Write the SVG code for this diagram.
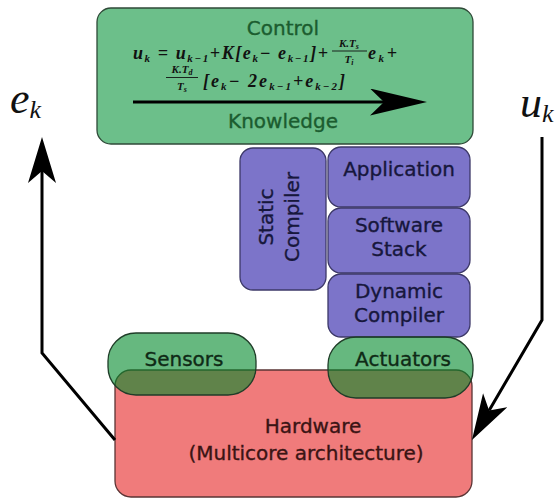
<svg xmlns="http://www.w3.org/2000/svg" width="560" height="501" viewBox="0 0 560 501">
<style>
.lbl{font-family:"DejaVu Sans",sans-serif;font-size:20px;text-anchor:middle;stroke-width:0.35}
.g{fill:#1b5c2f;stroke:#1b5c2f}
.p{fill:#17173c;stroke:#17173c}
.h{fill:#3a1414;stroke:#3a1414}
.d{fill:#0f2a16;stroke:#0f2a16}
.m{font-family:"Liberation Serif",serif;font-style:italic;font-weight:bold;fill:#111}
.big{font-family:"Liberation Serif",serif;font-style:italic;fill:#111}
.box{stroke-width:1.3}
.conn{fill:none;stroke:#000;stroke-width:3}
.fl{stroke:#111;stroke-width:0.9}
</style>
<defs>
<marker id="ah" viewBox="0 0 46 28" refX="12" refY="14" markerWidth="46" markerHeight="28" markerUnits="userSpaceOnUse" orient="auto">
<path d="M0,0 L46,14 L0,28 L12,14 Z" fill="#000"/>
</marker>
<marker id="ahc" viewBox="0 0 57 27" refX="14" refY="13.5" markerWidth="57" markerHeight="27" markerUnits="userSpaceOnUse" orient="auto">
<path d="M0,0 L57,13.5 L0,27 L14,13.5 Z" fill="#000"/>
</marker>
</defs>

<g id="control">
<rect class="box" x="97" y="8" width="376" height="136" rx="14" fill="#6cbf8a" stroke="#2f4a38"/>
<text class="lbl g" x="283" y="35">Control</text>
<text class="m" font-size="18" x="133" y="59" textLength="195" lengthAdjust="spacing">u<tspan font-size="11" dy="3">k</tspan><tspan dy="-3"> = u</tspan><tspan font-size="11" dy="3">k−1</tspan><tspan dy="-3">+K[e</tspan><tspan font-size="11" dy="3">k</tspan><tspan dy="-3">− e</tspan><tspan font-size="11" dy="3">k−1</tspan><tspan dy="-3">]+</tspan></text>
<text class="m" font-size="11" x="349" y="47" text-anchor="middle">K.T<tspan font-size="8" dy="2">s</tspan></text>
<line class="fl" x1="332" y1="51" x2="367" y2="51"/>
<text class="m" font-size="11" x="349" y="63" text-anchor="middle">T<tspan font-size="8" dy="2">i</tspan></text>
<text class="m" font-size="18" x="368" y="59" textLength="29" lengthAdjust="spacing">e<tspan font-size="11" dy="3">k</tspan><tspan dy="-3">+</tspan></text>
<text class="m" font-size="11" x="182" y="73" text-anchor="middle">K.T<tspan font-size="8" dy="2">d</tspan></text>
<line class="fl" x1="166" y1="77.5" x2="198" y2="77.5"/>
<text class="m" font-size="11" x="182" y="90" text-anchor="middle">T<tspan font-size="8" dy="2">s</tspan></text>
<text class="m" font-size="18" x="203" y="87" textLength="142" lengthAdjust="spacing">[e<tspan font-size="11" dy="3">k</tspan><tspan dy="-3">− 2e</tspan><tspan font-size="11" dy="3">k−1</tspan><tspan dy="-3">+e</tspan><tspan font-size="11" dy="3">k−2</tspan><tspan dy="-3">]</tspan></text>
<text class="lbl g" x="283" y="128">Knowledge</text>
</g>

<g id="static-compiler">
<rect class="box" x="240" y="148" width="86" height="142" rx="13" fill="#7c74c9" stroke="#3c3868"/>
<text class="lbl p" transform="translate(283,217) rotate(-90)" y="-10">Static</text>
<text class="lbl p" transform="translate(283,217) rotate(-90)" y="16">Compiler</text>
</g>

<g id="application">
<rect class="box" x="328" y="147" width="142" height="60" rx="13" fill="#7c74c9" stroke="#3c3868"/>
<text class="lbl p" x="399" y="176">Application</text>
</g>

<g id="software-stack">
<rect class="box" x="328" y="208" width="142" height="65" rx="13" fill="#7c74c9" stroke="#3c3868"/>
<text class="lbl p" x="399" y="232">Software</text>
<text class="lbl p" x="399" y="256">Stack</text>
</g>

<g id="dynamic-compiler">
<rect class="box" x="328" y="274" width="142" height="63" rx="13" fill="#7c74c9" stroke="#3c3868"/>
<text class="lbl p" x="399" y="298">Dynamic</text>
<text class="lbl p" x="399" y="322">Compiler</text>
</g>

<g id="hardware">
<rect class="box" x="115" y="370" width="357" height="127" rx="16" fill="#f07b7b" stroke="#5a3434"/>
<text class="lbl h" x="313" y="433">Hardware</text>
<text class="lbl h" x="306" y="460">(Multicore architecture)</text>
</g>

<g id="sensors">
<rect class="box" x="108" y="333" width="148" height="62" rx="28" fill="#00892a" fill-opacity="0.6" stroke="#1f3d28"/>
<text class="lbl d" x="184" y="366">Sensors</text>
</g>

<g id="actuators">
<rect class="box" x="328" y="337" width="145" height="61" rx="28" fill="#00892a" fill-opacity="0.6" stroke="#1f3d28"/>
<text class="lbl d" x="403" y="366">Actuators</text>
</g>

<g id="labels">
<text class="big" font-size="44" x="10" y="113">e<tspan font-size="26" dy="5">k</tspan></text>
<text class="big" font-size="44" x="520" y="117">u<tspan font-size="26" dy="5">k</tspan></text>
</g>

<g id="connectors">
<path class="conn" d="M133,102 L384,102" marker-end="url(#ahc)"/>
<path class="conn" d="M115,440 L42,353 L42,171" marker-end="url(#ah)"/>
<path class="conn" d="M542,137 L542,320 L489.1,410.6" marker-end="url(#ah)"/>
</g>
</svg>
